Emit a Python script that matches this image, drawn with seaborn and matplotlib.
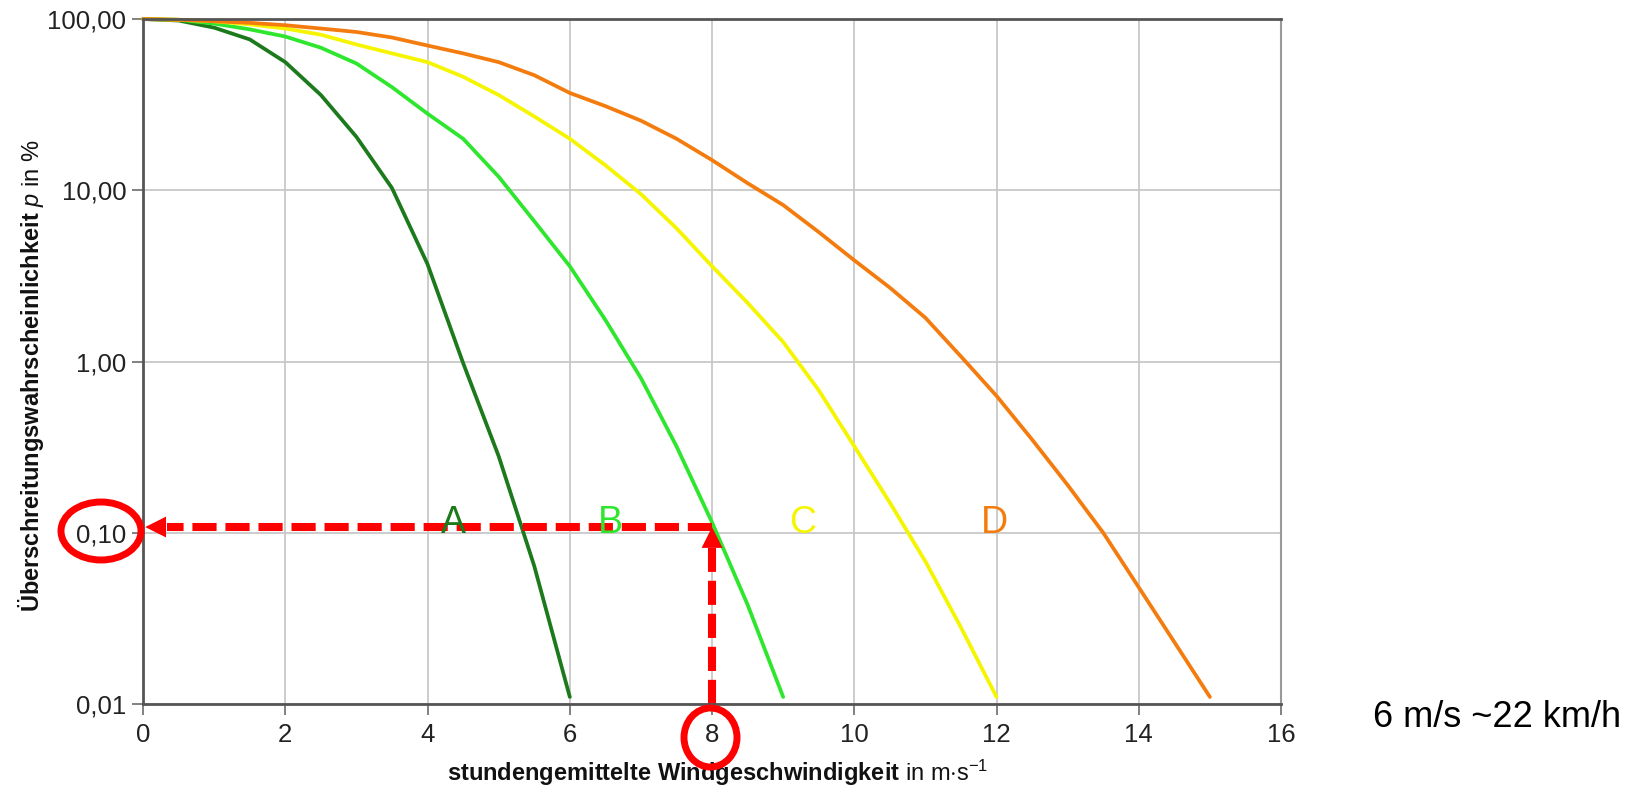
import pandas as pd
import seaborn as sns
import matplotlib
matplotlib.use("Agg")
import matplotlib.pyplot as plt
from matplotlib.patches import Ellipse
from matplotlib.ticker import FixedLocator, NullLocator

# Exceedance probability curves (wind speed in m/s, probability in %)
speed_A = [0, 0.5, 1, 1.5, 2, 2.5, 3, 3.5, 4, 4.5, 5, 5.5, 6]
prob_A = [100, 98, 89, 76, 56, 36, 20.5, 10.3, 3.7, 0.98, 0.28, 0.064, 0.011]

speed_B = [0, 0.5, 1, 1.5, 2, 2.5, 3, 3.5, 4, 4.5, 5, 5.5, 6, 6.5, 7, 7.5, 8, 8.5, 9]
prob_B = [100, 99, 94, 87, 79, 68, 55, 40, 28, 20, 12, 6.6, 3.6, 1.75, 0.8, 0.32, 0.115, 0.038, 0.011]

speed_C = [0, 0.5, 1, 1.5, 2, 2.5, 3, 3.5, 4, 4.5, 5, 5.5, 6, 6.5, 7, 7.5, 8, 8.5,
           9, 9.5, 10, 10.5, 11, 11.5, 12]
prob_C = [100, 99, 97, 93, 88, 81, 71, 63, 56, 46, 36, 27, 20, 14, 9.5, 6, 3.6, 2.2,
          1.3, 0.68, 0.32, 0.15, 0.068, 0.028, 0.011]

speed_D = [0, 0.5, 1, 1.5, 2, 2.5, 3, 3.5, 4, 4.5, 5, 5.5, 6, 6.5, 7, 7.5, 8, 8.5,
           9, 9.5, 10, 10.5, 11, 11.5, 12, 12.5, 13, 13.5, 14, 14.5, 15]
prob_D = [100, 99, 97, 95, 92, 88, 84, 78, 70, 63, 56, 47, 37, 31, 25.5, 20, 15, 11,
          8.2, 5.7, 3.9, 2.7, 1.8, 1.07, 0.63, 0.35, 0.19, 0.1, 0.048, 0.023, 0.011]

classes = ["A", "B", "C", "D"]
label_x = [4.36, 6.57, 9.28, 11.97]
colors = ["#1c7a1c", "#2ee62e", "#f5f500", "#f47c0e"]

x_ticks = [0, 2, 4, 6, 8, 10, 12, 14, 16]
y_ticks = [0.01, 0.1, 1, 10, 100]
y_tick_labels = ["0,01", "0,10", "1,00", "10,00", "100,00"]

# reading example: 8 m/s -> 0.1 %
read_speed = 8
read_prob = 0.1

df = pd.concat([
    pd.DataFrame({"speed": speed_A, "prob": prob_A, "cls": "A"}),
    pd.DataFrame({"speed": speed_B, "prob": prob_B, "cls": "B"}),
    pd.DataFrame({"speed": speed_C, "prob": prob_C, "cls": "C"}),
    pd.DataFrame({"speed": speed_D, "prob": prob_D, "cls": "D"}),
])

sns.set_theme(style="white")
plt.rcParams["font.family"] = ["Liberation Sans", "DejaVu Sans"]
plt.rcParams["mathtext.fontset"] = "custom"
plt.rcParams["mathtext.rm"] = "Liberation Sans"
plt.rcParams["mathtext.it"] = "Liberation Sans:italic"
plt.rcParams["mathtext.bf"] = "Liberation Sans:bold"

fig = plt.figure(figsize=(16.35, 7.89), dpi=100)
ax = fig.add_axes([0.0875, 0.1077, 0.696, 0.8682])

sns.lineplot(data=df, x="speed", y="prob", hue="cls", palette=colors,
             estimator=None, sort=False, linewidth=2.7, legend=False, ax=ax)
for ln in ax.lines:
    ln.set_clip_on(False)
    ln.set_solid_joinstyle("round")

ax.set_yscale("log")
ax.set_xlim(0, 16)
ax.set_ylim(0.01, 100)
ax.xaxis.set_major_locator(FixedLocator(x_ticks))
ax.yaxis.set_major_locator(FixedLocator(y_ticks))
ax.yaxis.set_minor_locator(NullLocator())
ax.set_yticklabels(y_tick_labels)

ax.grid(True, color="#c8c8c8", linewidth=1.3)
ax.set_axisbelow(True)
for side in ["left", "bottom", "top"]:
    ax.spines[side].set_color("#555555")
    ax.spines[side].set_linewidth(2)
ax.spines["right"].set_color("#999999")
ax.spines["right"].set_linewidth(1.5)

ax.tick_params(axis="both", which="major", direction="out", length=8, width=1.3,
               color="#777777", labelsize=18.5, labelcolor="#222222")
ax.tick_params(axis="x", pad=6, bottom=True)
ax.tick_params(axis="y", pad=4, left=True)

ax.set_xlabel(r"$\mathbf{stundengemittelte\ Windgeschwindigkeit}$ in m$\cdot$s$^{-1}$",
              fontsize=17, color="#111111")
ax.xaxis.set_label_coords(0.505, -0.078)
ax.set_ylabel(r"$\mathbf{Überschreitungswahrscheinlichkeit}$ $\mathit{p}$ in %",
              fontsize=17, color="#111111")
ax.yaxis.set_label_coords(-0.085, 0.48)

for name, xpos, col in zip(classes, label_x, colors):
    ax.text(xpos, read_prob, name, color=col, fontsize=27, ha="center", va="baseline")

# red reading arrows
arrow_level = read_prob * 1.08
ax.plot([read_speed, 0.34], [arrow_level, arrow_level], color="red", lw=5.8,
        dashes=(3.0, 1.1), clip_on=False)
ax.annotate("", xy=(0.03, arrow_level), xytext=(0.34, arrow_level),
            arrowprops=dict(arrowstyle="-|>,head_length=1.0,head_width=0.5",
                            color="red", lw=0, shrinkA=0, shrinkB=0, mutation_scale=15))
ax.plot([read_speed, read_speed], [0.01, 0.081], color="red", lw=5.8,
        dashes=(3.0, 1.1), clip_on=False)
ax.annotate("", xy=(read_speed, arrow_level), xytext=(read_speed, 0.08),
            arrowprops=dict(arrowstyle="-|>,head_length=1.0,head_width=0.5",
                            color="red", lw=0, shrinkA=0, shrinkB=0, mutation_scale=15))

W, H = 1635, 789
fig.add_artist(Ellipse((101 / W, 1 - 531 / H), 80 / W, 58 / H, transform=fig.transFigure,
                       fill=False, ec="red", lw=5))
fig.add_artist(Ellipse((710.5 / W, 1 - 737.5 / H), 53 / W, 59 / H, transform=fig.transFigure,
                       fill=False, ec="red", lw=5))

fig.text(1373 / W, 1 - 727 / H, "6 m/s ~22 km/h", fontsize=26, color="black",
         ha="left", va="baseline")

fig.savefig("out.png", dpi=100)
